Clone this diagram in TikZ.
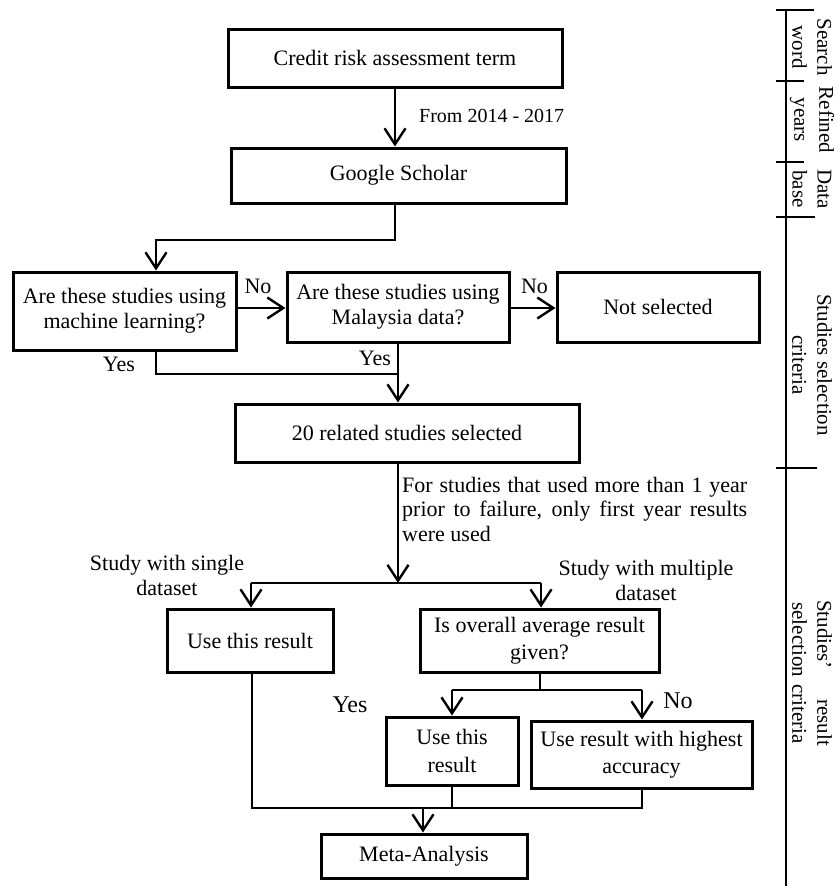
\documentclass[tikz,border=0pt]{standalone}
\usepackage{fontspec}
\setmainfont{Liberation Serif}
\usetikzlibrary{arrows.meta,calc}
\newcommand\fsmain{\fontsize{22}{25}\selectfont}
\newcommand\fsbig{\fontsize{22}{27.5}\selectfont}
\newcommand\fssmall{\fontsize{20}{24}\selectfont}
\newcommand\fsyn{\fontsize{24}{28}\selectfont}
\newcommand\fsside{\fontsize{21}{25}\selectfont}
\tikzset{
  box/.style={draw, line width=3pt, inner sep=0pt, align=center, font=\fsmain},
  bigbox/.style={box, font=\fsbig},
  arr/.style={line width=2.4pt, -{Straight Barb[length=16pt,width=21pt]}},
  conn/.style={line width=2.2pt},
  lbl/.style={inner sep=0pt, font=\fsmain},
  side/.style={inner sep=0pt, align=center, font=\fsside, rotate=-90},
}
\begin{document}
\begin{tikzpicture}[x=1pt,y=-1pt]
\useasboundingbox (0,0) rectangle (838,886);

% boxes
\node[box, minimum width=334pt, minimum height=58pt] (b1) at (395,58) {Credit risk assessment term};
\node[box, minimum width=335pt, minimum height=55pt] (b2) at (398.5,175.5) {Google Scholar};
\node[box, minimum width=223pt, minimum height=78pt] (b3) at (124.5,311) {Are these studies using\\machine learning?};
\node[box, minimum width=222pt, minimum height=70pt] (b4) at (398,307) {Are these studies using\\Malaysia data?};
\node[box, minimum width=202pt, minimum height=70pt] (b5) at (658,307) {Not selected};
\node[box, minimum width=344pt, minimum height=58pt] (b6) at (407,433) {20 related studies selected};
\node[box, minimum width=166pt, minimum height=63pt] (b7) at (250,640.5) {Use this result};
\node[bigbox, minimum width=239pt, minimum height=63pt] (b8) at (539.5,640.5) {Is overall average result\\given?};
\node[bigbox, minimum width=132pt, minimum height=68pt] (b9) at (452,751) {Use this\\result};
\node[bigbox, minimum width=221pt, minimum height=67pt] (b10) at (641.5,754.5) {Use result with highest\\accuracy};
\node[box, minimum width=206pt, minimum height=44pt] (b11) at (424,856) {Meta-Analysis};

% junction coordinates
\coordinate (j1) at (395,240);
\coordinate (j2) at (156,240);
\coordinate (r1) at (0,308);
\coordinate (j3) at (156,374);
\coordinate (j4) at (398,583);
\coordinate (j5) at (251,583);
\coordinate (j6) at (541,583);
\coordinate (j7) at (540,690);
\coordinate (j8) at (452,690);
\coordinate (j9) at (642,690);
\coordinate (k1) at (252,808);
\coordinate (k2) at (642,808);
\coordinate (k3) at (423,808);

% connectors
\draw[arr] (b1.south) -- (b1.south |- b2.north);
\draw[arr] (b2.south -| j1) -- (j1) -- (j2) -- (j2 |- b3.north);
\draw[arr] (b3.east |- r1) -- (b4.west |- r1);
\draw[arr] (b4.east |- r1) -- (b5.west |- r1);
\draw[conn] (b3.south -| j3) -- (j3) -- (j3 -| b4.south);
\draw[arr] (b4.south) -- (b4.south |- b6.north);
\draw[arr] (b6.south -| j4) -- (j4);
\draw[conn] (j5) -- (j6);
\draw[arr] (j5) -- (j5 |- b7.north);
\draw[arr] (j6) -- (j6 |- b8.north);
\draw[conn] (b8.south -| j7) -- (j7);
\draw[conn] (j8) -- (j9);
\draw[arr] (j8) -- (j8 |- b9.north);
\draw[arr] (j9) -- (j9 |- b10.north);
\draw[conn] (b7.south -| k1) -- (k1) -- (k2) -- (b10.south -| k2);
\draw[conn] (b9.south) -- (b9.south |- k1);
\draw[arr] (k3) -- (k3 |- b11.north);

% labels
\node[lbl, font=\fssmall, anchor=base west] (t1) at (419,122) {From 2014 - 2017};
\node[lbl, anchor=base] (n1) at (258,293) {No};
\node[lbl, anchor=base] (n2) at (534.5,293) {No};
\node[lbl, anchor=base] (y1) at (119,371) {Yes};
\node[lbl, anchor=base] (y2) at (375,365) {Yes};
\node[lbl, anchor=north west, text width=345pt, align=justify, font=\fontsize{22}{24.5}\selectfont] (note) at (402,477)
  {For studies that used more than 1 year prior to failure, only first year results were used};
\node[lbl, anchor=north, align=center] (s1) at (167,555) {Study with single\\dataset};
\node[lbl, anchor=north, align=center] (s2) at (646,560) {Study with multiple\\dataset};
\node[lbl, font=\fsyn, anchor=base] (y3) at (350,712) {Yes};
\node[lbl, font=\fsyn, anchor=base] (n3) at (678,708) {No};

% sidebar
\draw[line width=2.6pt] (786,10) -- (786,886);
\draw[line width=2.6pt] (776,10) -- (814,10);
\draw[line width=2.6pt] (776,81) -- (804,81);
\draw[line width=2.6pt] (776,162) -- (804,162);
\draw[line width=2.6pt] (776,217) -- (815,217);
\draw[line width=2.6pt] (776,468) -- (817,468);
\node[side] (sd1) at (812,47) {Search\\word};
\node[side] (sd2) at (812,120) {Refined\\years};
\node[side] (sd3) at (812,189) {Data\\base};
\node[side] (sd4) at (812,365) {Studies selection\\criteria};
\node[side, text width=146pt] (sd5) at (812,673) {Studies’\hfill result\\selection criteria};
\end{tikzpicture}
\end{document}
